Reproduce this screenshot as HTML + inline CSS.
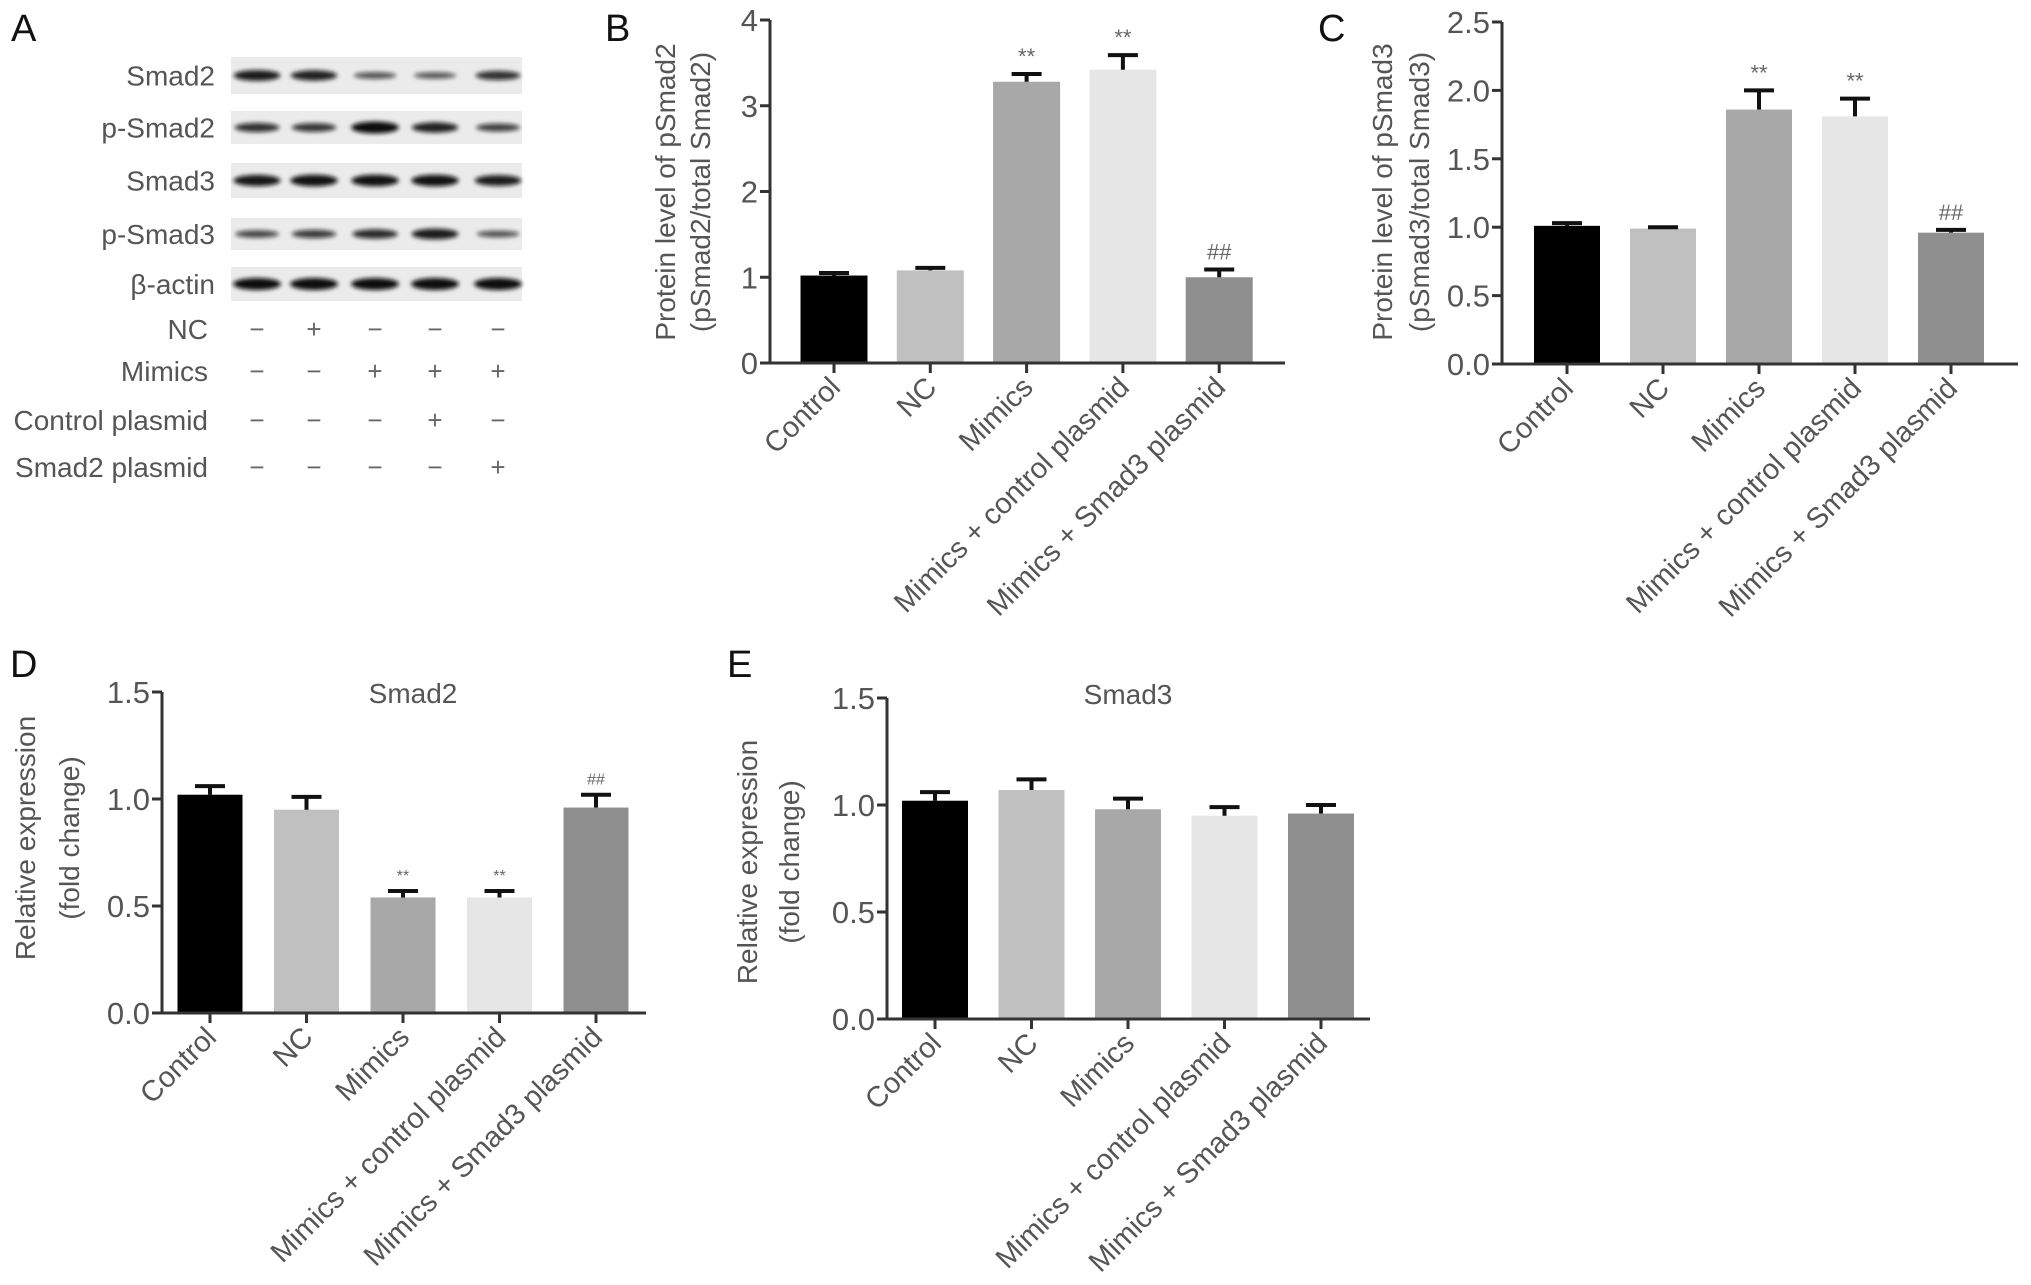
<!DOCTYPE html>
<html><head><meta charset="utf-8">
<style>
html,body{margin:0;padding:0;background:#fff;}
svg{display:block;font-family:"Liberation Sans",Arial,sans-serif;}
</style></head>
<body>
<svg id="fig" width="2031" height="1285" viewBox="0 0 2031 1285" xmlns="http://www.w3.org/2000/svg">
<defs><filter id="blur" x="-20%" y="-100%" width="140%" height="300%"><feGaussianBlur stdDeviation="2"/></filter></defs>
<g font-size="38" fill="#111">
<text x="11" y="41">A</text>
<text x="605" y="41">B</text>
<text x="1318" y="41">C</text>
<text x="10" y="677">D</text>
<text x="727" y="677">E</text>
</g>
<g id="blot"></g>
<g id="chartB"></g>
<g id="chartC"></g>
<g id="chartD"></g>
<g id="chartE"></g>
</svg>
<script>
const categories = ["Control","NC","Mimics","Mimics + control plasmid","Mimics + Smad3 plasmid"];
const barColors = ["#000000","#c0c0c0","#a8a8a8","#e6e6e6","#8f8f8f"];

const bValues = [1.02,1.08,3.28,3.42,1.0];
const bErrTop = [1.05,1.11,3.37,3.59,1.09];
const bTicks = ["0","1","2","3","4"];
const bTickVals = [0,1,2,3,4];
const bSig = ["","","**","**","##"];

const cValues = [1.01,0.99,1.86,1.81,0.96];
const cErrTop = [1.03,1.0,2.0,1.94,0.98];
const cTicks = ["0.0","0.5","1.0","1.5","2.0","2.5"];
const cTickVals = [0,0.5,1,1.5,2,2.5];
const cSig = ["","","**","**","##"];

const dValues = [1.02,0.95,0.54,0.54,0.96];
const dErrTop = [1.06,1.01,0.57,0.57,1.02];
const dTicks = ["0.0","0.5","1.0","1.5"];
const dTickVals = [0,0.5,1,1.5];
const dSig = ["","","**","**","##"];

const eValues = [1.02,1.07,0.98,0.95,0.96];
const eErrTop = [1.06,1.12,1.03,0.99,1.0];
const eTicks = ["0.0","0.5","1.0","1.5"];
const eTickVals = [0,0.5,1,1.5];
const eSig = ["","","","",""];

const blotRows = ["Smad2","p-Smad2","Smad3","p-Smad3","β-actin"];
const blotIntensity = [
 [0.85,0.8,0.35,0.3,0.65],
 [0.65,0.6,1.0,0.8,0.5],
 [0.9,0.95,0.95,0.95,0.85],
 [0.45,0.55,0.7,0.85,0.35],
 [1,1,1,1,1]
];
const treatRows = ["NC","Mimics","Control plasmid","Smad2 plasmid"];
const treatSigns = [
 ["−","+","−","−","−"],
 ["−","−","+","+","+"],
 ["−","−","−","+","−"],
 ["−","−","−","−","+"]
];

const NS="http://www.w3.org/2000/svg";
function mk(tag, attrs, parent){const e=document.createElementNS(NS,tag);for(const k in attrs)e.setAttribute(k,attrs[k]);parent.appendChild(e);return e;}

function chart(id, cfg, values, errTop, ticks, tickVals, sig){
  const g=document.getElementById(id);
  const ymax=tickVals[tickVals.length-1];
  const y=v=>cfg.y0-(v/ymax)*(cfg.y0-cfg.yTop);
  const x=i=>cfg.xFirst+i*cfg.step;
  values.forEach((v,i)=>{
    const r=mk('rect',{x:x(i)-cfg.bw/2,y:y(v),width:cfg.bw,height:cfg.y0-y(v),fill:barColors[i]},g);
    
    
    const e=mk('path',{d:`M${x(i)} ${y(v)}V${y(errTop[i])}M${x(i)-15} ${y(errTop[i])}H${x(i)+15}`,stroke:'#111','stroke-width':4,fill:'none'},g);
    
    
    if(sig[i]){
      const s=mk('text',{x:x(i),y:y(errTop[i])-10,'text-anchor':'middle','font-size':cfg.sigSize,fill:'#666'},g);
      s.textContent=sig[i];
      
      
    }
    const tk=mk('line',{x1:x(i),x2:x(i),y1:cfg.y0,y2:cfg.y0+10,stroke:'#333','stroke-width':3},g);
    
    
    const lx=x(i)+8, ly=cfg.y0+26;
    const t=mk('text',{x:lx,y:ly,'text-anchor':'end','font-size':29,fill:'#555',transform:`rotate(-45 ${lx} ${ly})`},g);
    t.textContent=categories[i];
    
    
  });
  const ya=mk('line',{x1:cfg.yAxisX,x2:cfg.yAxisX,y1:cfg.yTop,y2:cfg.y0,stroke:'#333','stroke-width':3},g);
  
  
  const xa=mk('line',{x1:cfg.xAxisStart,x2:cfg.xAxisEnd,y1:cfg.y0,y2:cfg.y0,stroke:'#333','stroke-width':3},g);
  
  
  tickVals.forEach((v,j)=>{
    const tl=mk('line',{x1:cfg.yAxisX-10,x2:cfg.yAxisX,y1:y(v),y2:y(v),stroke:'#333','stroke-width':3},g);
    
    
    const tt=mk('text',{x:cfg.yAxisX-12,y:y(v)+11,'text-anchor':'end','font-size':31,fill:'#555'},g);
    tt.textContent=ticks[j];
    
    
  });
  cfg.yTitle.forEach((line,k)=>{
    const tx=cfg.yTitleX[k], ty=cfg.yTitleY;
    const t=mk('text',{x:tx,y:ty,'text-anchor':'middle','font-size':28,fill:'#555',transform:`rotate(-90 ${tx} ${ty})`},g);
    t.textContent=line;
    
    
  });
  if(cfg.title){
    const t=mk('text',{x:cfg.titleX,y:cfg.titleY,'text-anchor':'middle','font-size':28,fill:'#555'},g);
    t.textContent=cfg.title;
    
    
  }
}

chart('chartB',{y0:363,yTop:20,yAxisX:770,xAxisStart:760,xAxisEnd:1285,xFirst:834,step:96.3,bw:67,sigSize:22,
  yTitle:["Protein level of pSmad2","(pSmad2/total Smad2)"],yTitleX:[675,710],yTitleY:192},bValues,bErrTop,bTicks,bTickVals,bSig);
chart('chartC',{y0:364,yTop:22,yAxisX:1502,xAxisStart:1492,xAxisEnd:2018,xFirst:1567,step:96,bw:66,sigSize:22,
  yTitle:["Protein level of pSmad3","(pSmad3/total Smad3)"],yTitleX:[1392,1429],yTitleY:192},cValues,cErrTop,cTicks,cTickVals,cSig);
chart('chartD',{y0:1013,yTop:692,yAxisX:162,xAxisStart:154,xAxisEnd:646,xFirst:210,step:96.5,bw:65,sigSize:16,
  yTitle:["Relative expression","(fold change)"],yTitleX:[35,79],yTitleY:838,title:"Smad2",titleX:413,titleY:703},dValues,dErrTop,dTicks,dTickVals,dSig);
chart('chartE',{y0:1019,yTop:698,yAxisX:887,xAxisStart:881,xAxisEnd:1370,xFirst:935,step:96.5,bw:66,sigSize:16,
  yTitle:["Relative expression","(fold change)"],yTitleX:[757,799],yTitleY:862,title:"Smad3",titleX:1128,titleY:704},eValues,eErrTop,eTicks,eTickVals,eSig);

(function(){
  const g=document.getElementById('blot');
  const lanes=[257,314,375,435,498];
  const stripTop=[57,111,163,218,267];
  const stripH=[37,33,35,32,34];
  blotRows.forEach((name,r)=>{
    const s=mk('rect',{x:231,y:stripTop[r],width:291,height:stripH[r],fill:'#ebebeb'},g);
    
    
    const cy=stripTop[r]+stripH[r]/2;
    lanes.forEach((lx,i)=>{
      const k=blotIntensity[r][i];
      const b=mk('ellipse',{cx:lx,cy:cy,rx:20+4*k,ry:2+4*k,fill:'#111','fill-opacity':0.55+0.45*k,filter:'url(#blur)'},g);
      
      
    });
    const t=mk('text',{x:215,y:cy+10,'text-anchor':'end','font-size':28,fill:'#555'},g);
    t.textContent=name;
    
    
  });
  const ty=[329,371,420,467];
  treatRows.forEach((name,r)=>{
    const t=mk('text',{x:208,y:ty[r]+10,'text-anchor':'end','font-size':28,fill:'#555'},g);
    t.textContent=name;
    
    
    lanes.forEach((lx,i)=>{
      const s=mk('text',{x:lx,y:ty[r]+9,'text-anchor':'middle','font-size':26,fill:'#666'},g);
      s.textContent=treatSigns[r][i];
      
      
    });
  });
})();
</script>
</body></html>
